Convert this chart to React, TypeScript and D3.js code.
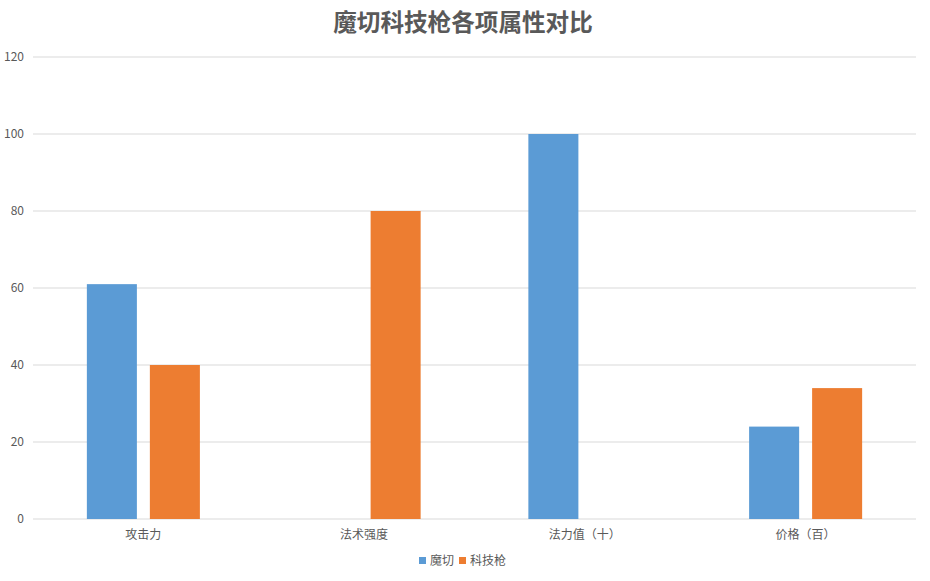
import * as d3 from "d3";

const categories = ["攻击力", "法术强度", "法力值（十）", "价格（百）"];
const seriesNames = ["魔切", "科技枪"];
const mieqieValues = [61, 0, 100, 24];
const kejiqiangValues = [40, 80, 0, 34];
const yTicks = [0, 20, 40, 60, 80, 100, 120];
const colors = ["#5B9BD5", "#ED7D31"];

const W = 930;
const H = 581;
const margin = { top: 57, right: 14, bottom: 62, left: 33 };
const font = "'Noto Sans CJK SC', 'Microsoft YaHei', sans-serif";

export default function App() {
  const seriesValues = [mieqieValues, kejiqiangValues];

  const x0 = d3
    .scaleBand<string>()
    .domain(categories)
    .range([margin.left, W - margin.right])
    .padding(0);

  const x1 = d3
    .scaleBand<string>()
    .domain(seriesNames)
    .range([0, x0.bandwidth()])
    .paddingInner(0.206)
    .paddingOuter(0.855);

  const y = d3
    .scaleLinear()
    .domain([0, 120])
    .range([H - margin.bottom, margin.top]);

  return (
    <svg
      width={W}
      height={H}
      style={{ position: "absolute", left: 0, top: 0, background: "#fff", fontFamily: font }}
    >
      {/* title */}
      <text x={463} y={31} textAnchor="middle" fontSize={23.6} fontWeight="bold" fill="#595959">
        魔切科技枪各项属性对比
      </text>

      {/* grid + y labels */}
      {yTicks.map((t) => (
        <g key={t}>
          <line
            x1={margin.left}
            x2={W - margin.right}
            y1={y(t)}
            y2={y(t)}
            stroke="#D9D9D9"
            strokeWidth={1}
          />
          <text x={24} y={y(t)} dy="0.35em" textAnchor="end" fontSize={12} fill="#595959">
            {t}
          </text>
        </g>
      ))}

      {/* bars */}
      {categories.map((c, i) => (
        <g key={c} transform={`translate(${x0(c)},0)`}>
          {seriesNames.map((s, j) => {
            const v = seriesValues[j][i];
            return (
              <rect
                key={s}
                x={x1(s)}
                y={y(v)}
                width={x1.bandwidth()}
                height={y(0) - y(v)}
                fill={colors[j]}
              />
            );
          })}
        </g>
      ))}

      {/* x labels */}
      {categories.map((c) => (
        <text
          key={c}
          x={(x0(c) ?? 0) + x0.bandwidth() / 2}
          y={539}
          textAnchor="middle"
          fontSize={12}
          fill="#595959"
        >
          {c}
        </text>
      ))}

      {/* legend */}
      <g transform="translate(419,561)">
        <rect x={0} y={-4} width={7} height={7} fill={colors[0]} />
        <text x={11} y={0} dy="0.35em" fontSize={12} fill="#595959">
          {seriesNames[0]}
        </text>
        <rect x={40} y={-4} width={7} height={7} fill={colors[1]} />
        <text x={51} y={0} dy="0.35em" fontSize={12} fill="#595959">
          {seriesNames[1]}
        </text>
      </g>
    </svg>
  );
}
